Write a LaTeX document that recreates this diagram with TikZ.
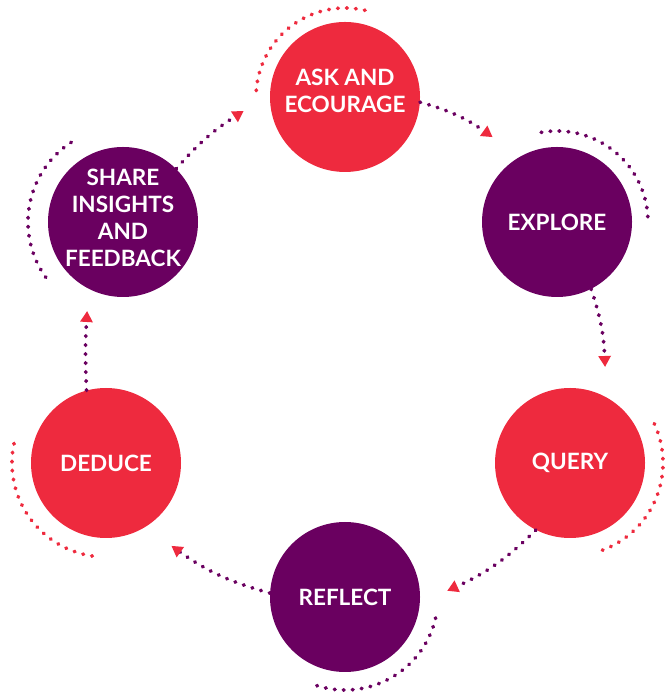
\documentclass[tikz,border=0pt]{standalone}
\usepackage{fontspec}
\setmainfont{Lato}
\usetikzlibrary{arrows.meta}
\definecolor{cred}{HTML}{EE2A3E}
\definecolor{cpur}{HTML}{6A0060}
\tikzset{
  stagefont/.style={text=white, align=center, font=\fontsize{22.5}{27}\selectfont\bfseries},
  stage/.style={circle, minimum size=150pt, inner sep=0pt, stagefont},
  redstage/.style={stage, fill=cred},
  purstage/.style={stage, fill=cpur},
  dots/.style={line width=3.8pt, line cap=round, dash pattern=on 0.6pt off 8.4pt},
  flow/.style={dots, draw=cpur, -{Triangle[length=11pt,width=12pt,color=cred]}, shorten >=-2pt},
}
\begin{document}
\begin{tikzpicture}[x=1pt,y=1pt]
\useasboundingbox (0,0) rectangle (668,700);
\node[redstage] (ask) at (345,603) {};
\node[stagefont] (asktxt) at ([yshift=6pt]ask.center) {ASK AND\\ECOURAGE};
\node[purstage] (explore) at (557,478) {EXPLORE};
\node[redstage] (query) at (570,237) {QUERY};
\node[purstage] (reflect) at (345,103) {REFLECT};
\node[redstage] (deduce) at (106,237) {DEDUCE};
\node[purstage] (share) at (123,478) {};
\node[stagefont] (sharetxt) at ([yshift=4pt]share.center) {SHARE\\INSIGHTS\\AND\\FEEDBACK};

% decorative arcs
\draw[dots, draw=cred] (ask.center) ++(77:89pt) arc[start angle=77, end angle=176, radius=89pt];
\draw[dots, draw=cpur] (explore.center) ++(100:91pt) arc[start angle=100, end angle=3, radius=91pt];
\draw[dots, draw=cred] (query.center) ++(25:93pt) arc[start angle=25, end angle=-70, radius=93pt];
\draw[dots, draw=cpur] (reflect.center) ++(-13:93pt) arc[start angle=-13, end angle=-108, radius=93pt];
\draw[dots, draw=cred] (deduce.center) ++(168:94pt) arc[start angle=168, end angle=262, radius=94pt];
\draw[dots, draw=cpur] (share.center) ++(123:95pt) arc[start angle=123, end angle=217, radius=95pt];

% connectors
\coordinate (e1) at (491,564);
\coordinate (e2) at (605,335);
\coordinate (e3) at (449,110);
\coordinate (e4) at (173,153);
\coordinate (e5) at (87,387);
\coordinate (e6) at (242,588);
\draw[flow] (ask.-4) to[bend left=10] (e1);
\draw[flow] (explore.-63) to[bend left=8] (e2);
\draw[flow] (query.-117) to[bend left=10] (e3);
\draw[flow] (reflect.177) to[bend left=10] (e4);
\draw[flow] (deduce.105) to[bend left=3] (e5);
\draw[flow] (share.45) to[bend left=8] (e6);
\end{tikzpicture}
\end{document}
